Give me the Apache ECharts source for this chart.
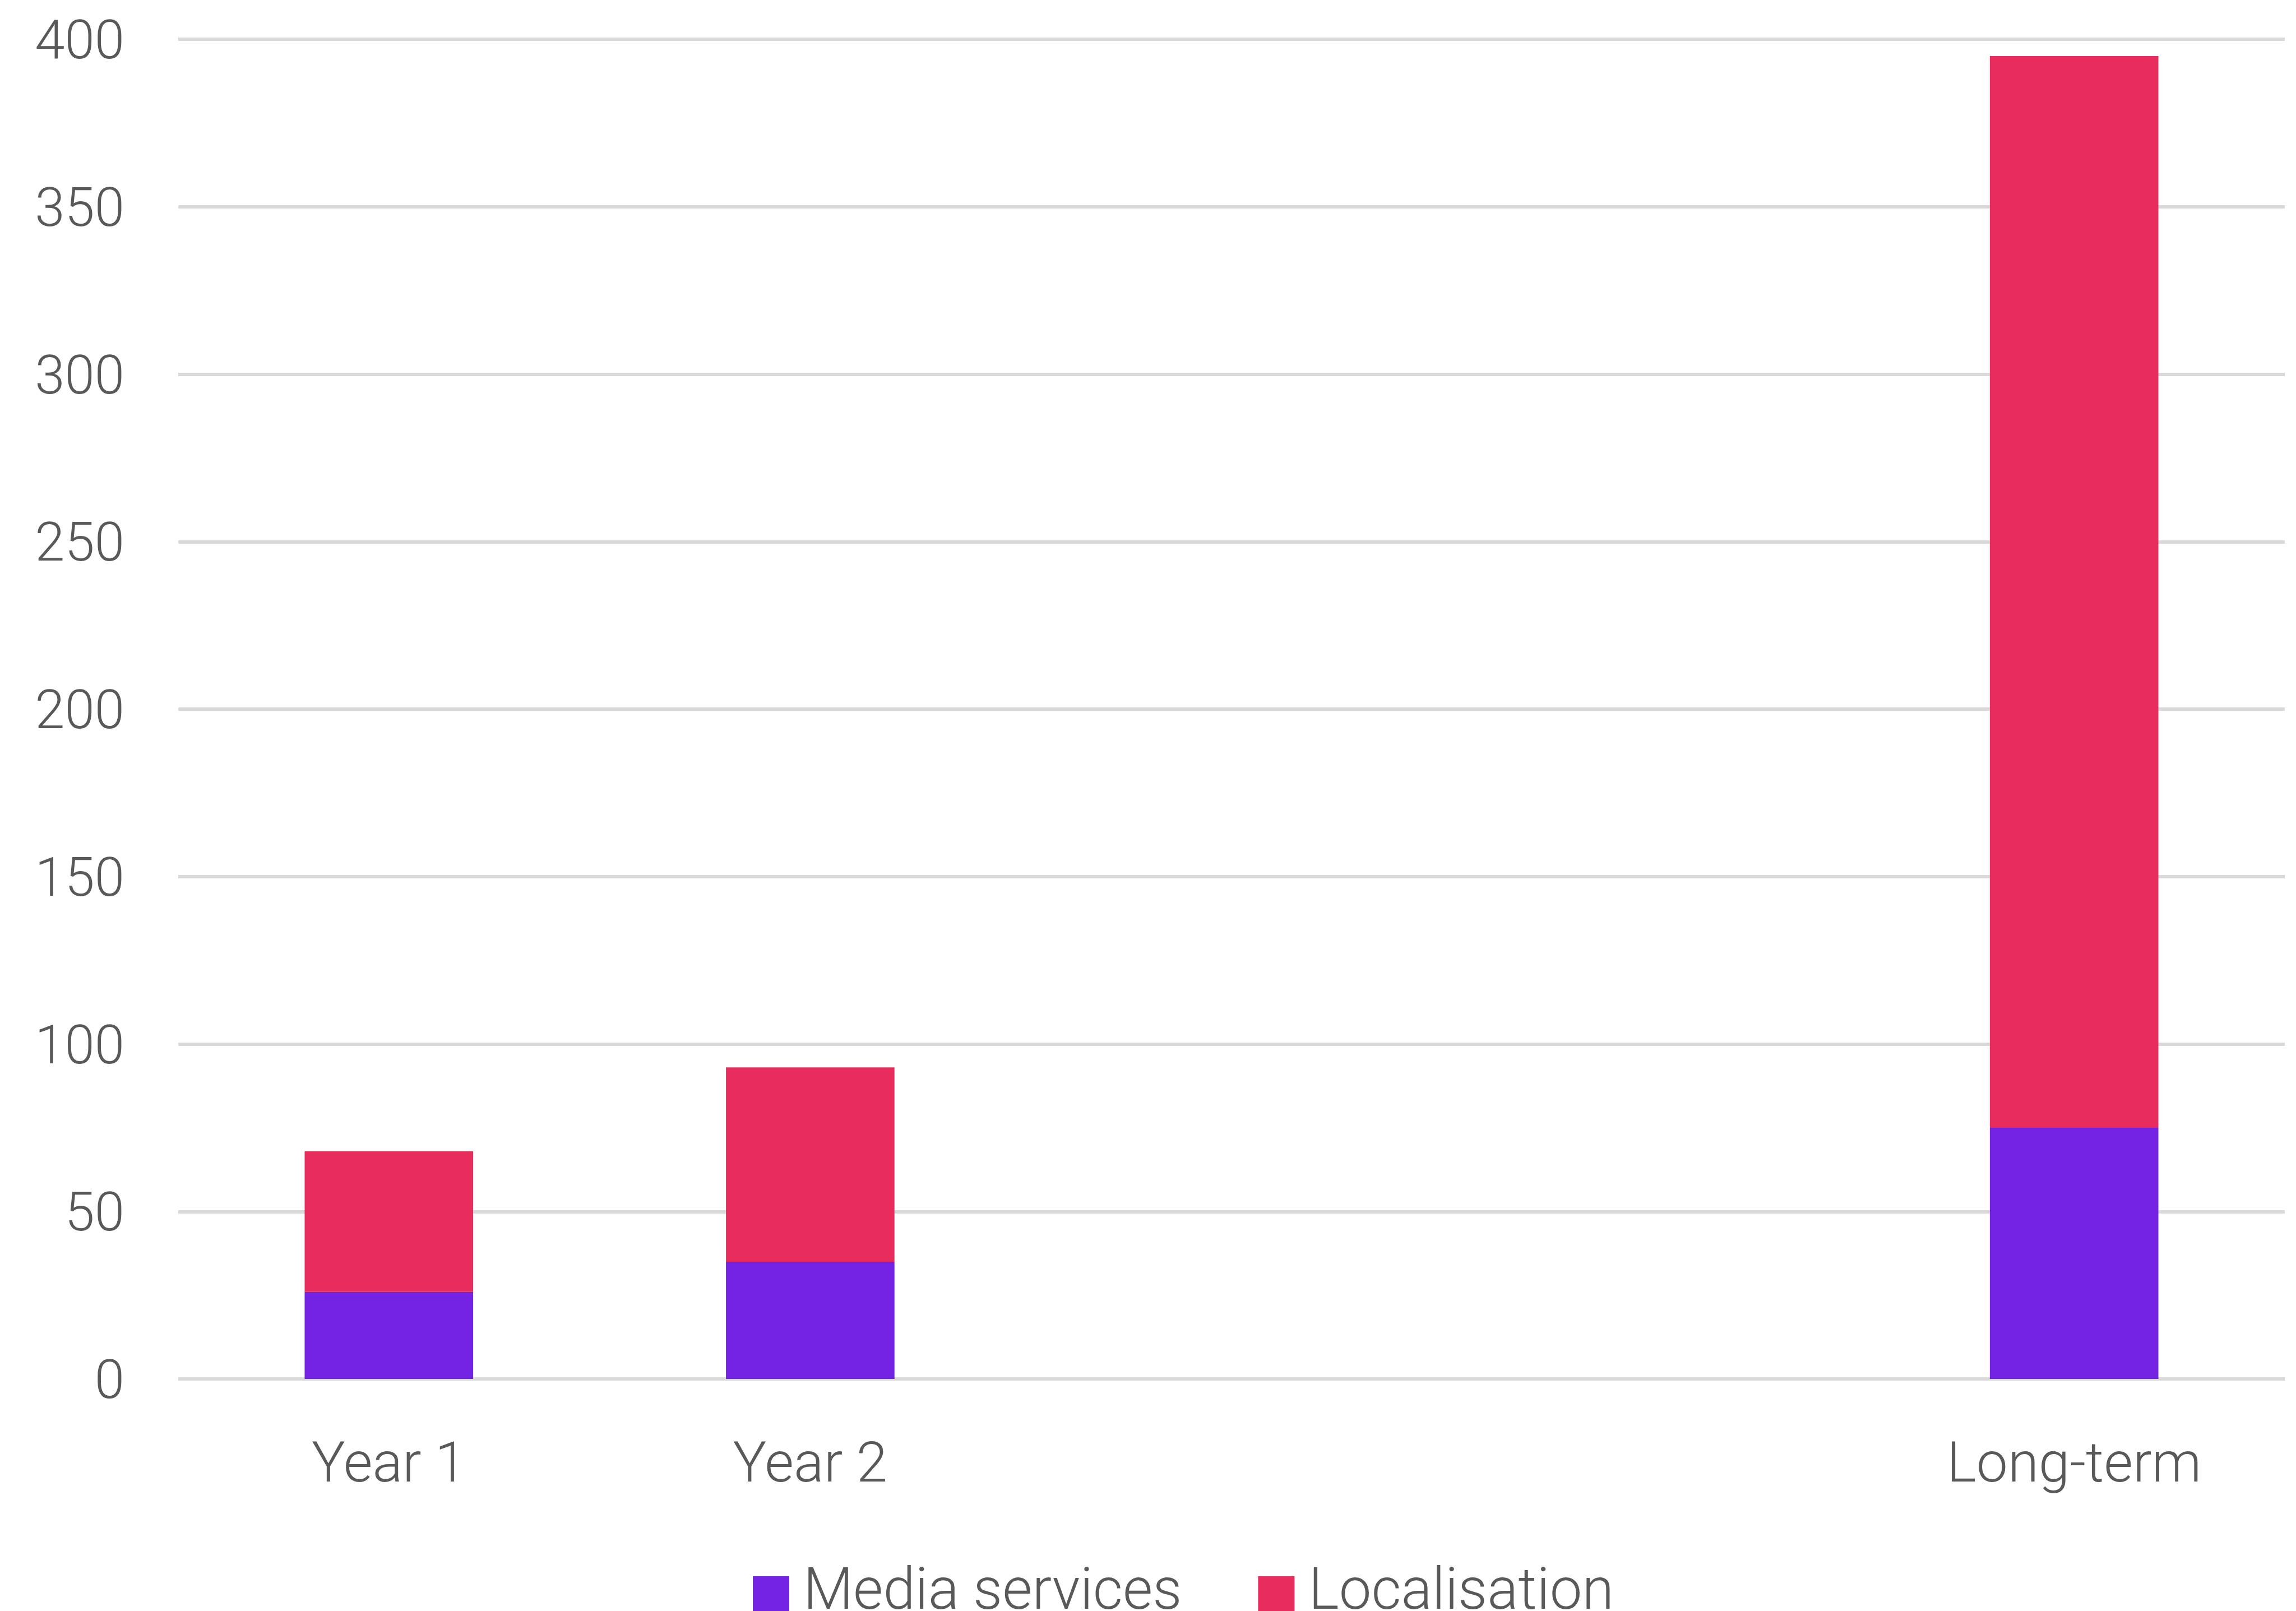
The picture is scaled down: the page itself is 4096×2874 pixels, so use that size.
<!DOCTYPE html>
<html>
<head>
<meta charset="utf-8">
<script src="https://cdn.jsdelivr.net/npm/echarts@6/dist/echarts.min.js"></script>
<style>
html,body{margin:0;padding:0;background:#fff;}
#chart{width:4096px;height:2874px;}
</style>
</head>
<body>
<div id="chart"></div>
<script>
var categories = ['Year 1', 'Year 2', '', ' ', 'Long-term'];
var mediaServices = [26, 35, null, null, 75];
var localisation = [42, 58, null, null, 320];
var yTicks = [0, 50, 100, 150, 200, 250, 300, 350, 400];

var FONT = 'Roboto';
var TXT = '#595959';
var chart = echarts.init(document.getElementById('chart'), null, {renderer: 'canvas'});
chart.setOption({
  backgroundColor: '#ffffff',
  animation: false,
  grid: {left: 318, right: 20, top: 70, bottom: 414, containLabel: false},
  legend: {
    left: 1338, top: 2788,
    itemWidth: 65, itemHeight: 65, itemGap: 136,
    icon: 'rect',
    textStyle: {fontFamily: FONT, fontWeight: 300, fontSize: 103, color: TXT, padding: [0, 0, 0, 20]},
    data: ['Media services', 'Localisation']
  },
  xAxis: {
    type: 'category',
    data: categories,
    axisLine: {show: false},
    axisTick: {show: false},
    axisLabel: {fontFamily: FONT, fontWeight: 300, fontSize: 100, color: TXT, margin: 108, interval: 0}
  },
  yAxis: {
    type: 'value',
    min: yTicks[0], max: yTicks[yTicks.length - 1], interval: 50,
    axisLine: {show: false},
    axisTick: {show: false},
    splitLine: {lineStyle: {color: '#d9d9d9', width: 6}},
    axisLabel: {
      color: TXT, margin: 96,
      formatter: function (v) { return '{t|' + v + '}'; },
      rich: {t: {fontFamily: FONT, fontWeight: 300, fontSize: 96, color: TXT, padding: [20, 0, 0, 0]}}
    }
  },
  series: [
    {name: 'Media services', type: 'bar', stack: 'total', data: mediaServices, barWidth: '40%',
     itemStyle: {color: '#7322e3'}},
    {name: 'Localisation', type: 'bar', stack: 'total', data: localisation, barWidth: '40%',
     itemStyle: {color: '#e82d5e'}}
  ]
});
</script>
</body>
</html>
